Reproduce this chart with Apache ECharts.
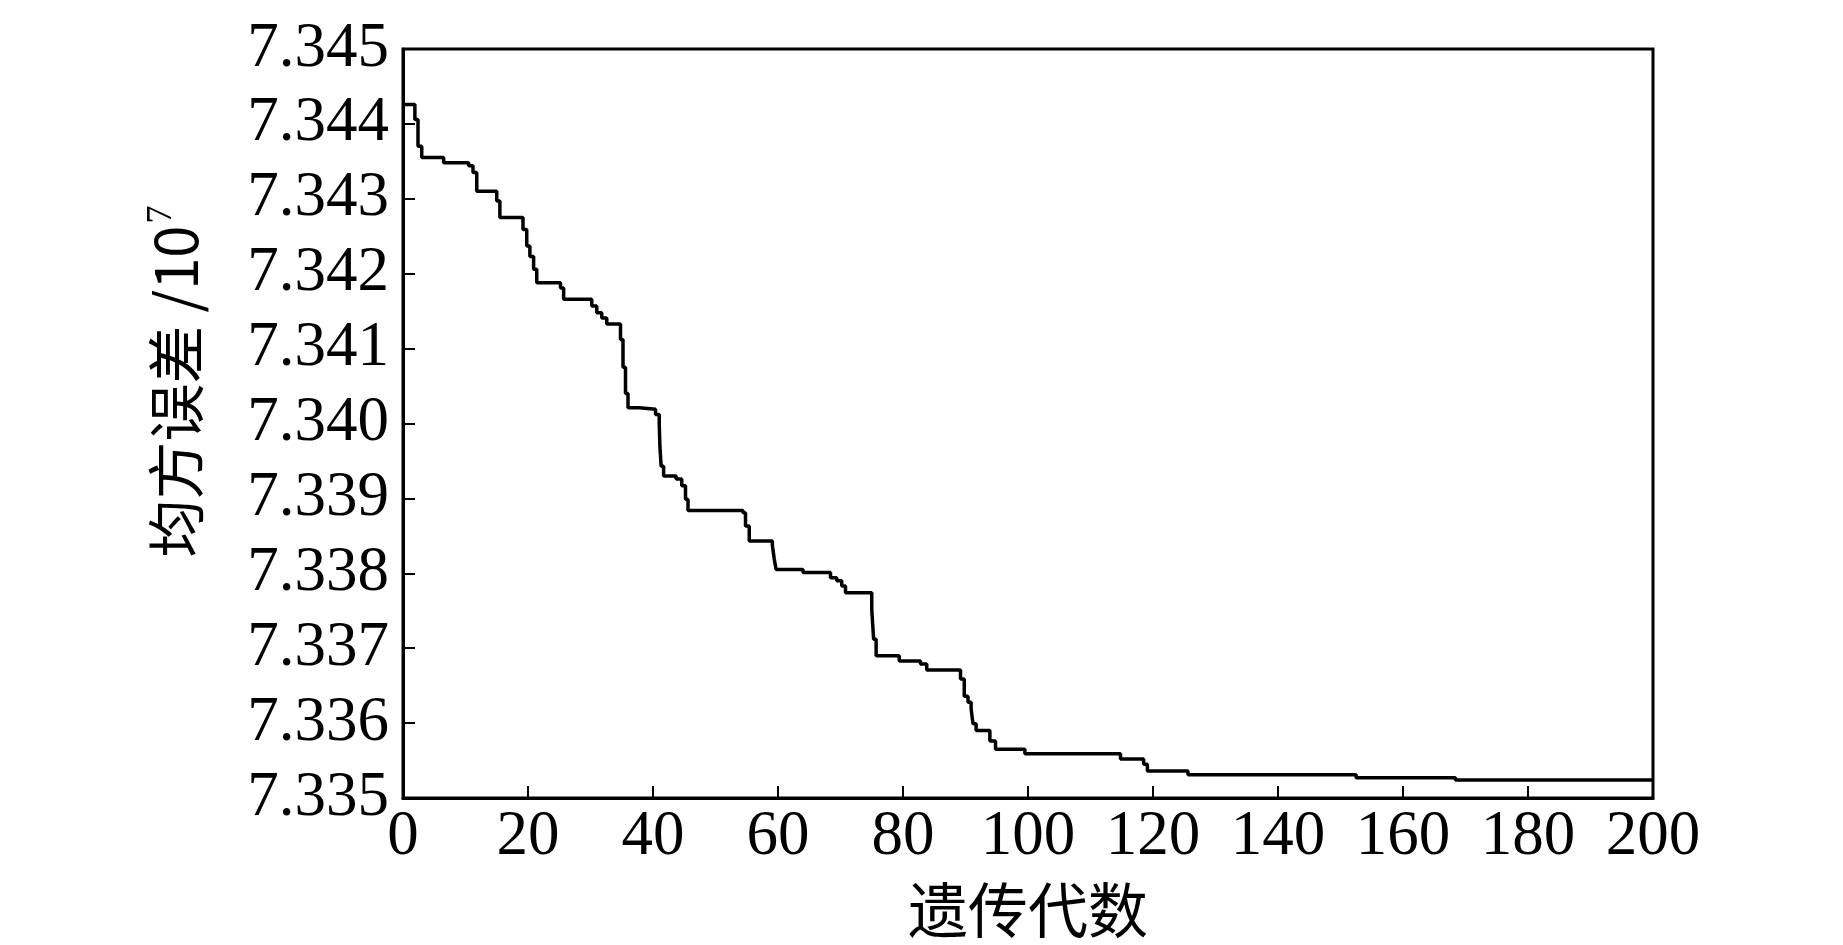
<!DOCTYPE html>
<html>
<head>
<meta charset="utf-8">
<script src="https://cdn.jsdelivr.net/npm/echarts@6/dist/echarts.min.js"></script>
<style>
  html, body { margin: 0; padding: 0; background: #fff; }
  #main { width: 1843px; height: 945px; }
</style>
</head>
<body>
<div id="main"></div>
<script>
// 遗传代数 (每一段台阶开始的代数)
var gens = [0, 1.9, 2.4, 3, 6.5, 10.5, 11.2, 11.8, 15, 15.5, 19.2, 19.8, 20.3, 20.9, 21.4,
	25.2, 25.7, 30.2, 31, 31.8, 32.6, 34.8, 35.2, 35.6, 36, 37.8, 40.4, 41, 41.1, 41.3, 41.7,
	43.7, 44.6, 45.2, 45.6, 54.4, 54.8, 55.4, 59.1, 59.4, 59.7, 64, 68.4, 69.4, 70.2, 70.8,
	75, 75.3, 75.7, 79.4, 82.8, 83.8, 89.2, 89.8, 90.4, 90.9, 91.2, 91.7, 93.9, 94.8, 99.5,
	114.8, 118.5, 119.1, 125.6, 152.5, 168.4, 200];
// 均方误差 /10^7
var mse = [7.34426, 7.34406, 7.34370, 7.34355, 7.34348, 7.34344, 7.34335, 7.34310, 7.34297, 7.34275,
	7.34259, 7.34237, 7.34223, 7.34206, 7.34188, 7.34181, 7.34166, 7.34157, 7.34148, 7.34141,
	7.34133, 7.34112, 7.34075, 7.34040, 7.34021, 7.34019, 7.34012, 7.33999, 7.33970, 7.33943,
	7.33930, 7.33926, 7.33917, 7.33899, 7.33884, 7.33881, 7.33863, 7.33843, 7.33837, 7.33819,
	7.33805, 7.33801, 7.33794, 7.33790, 7.33783, 7.33774, 7.33752, 7.33712, 7.33690, 7.33683,
	7.33679, 7.33671, 7.33659, 7.33636, 7.33628, 7.33619, 7.33599, 7.33590, 7.33576, 7.33565,
	7.33559, 7.33552, 7.33545, 7.33536, 7.33531, 7.33527, 7.33524, 7.33524];

var xName = '遗传代数';
var yName = '均方误差 /10';

var chart = echarts.init(document.getElementById('main'));
var seriesData = gens.map(function(g, i) { return [g, mse[i]]; });

var option = {
	backgroundColor: '#fff',
	animation: false,
	grid: {
		left: 403,
		right: 190,
		top: 49,
		bottom: 146,
		show: true,
		borderColor: '#000',
		borderWidth: 3
	},
	xAxis: {
		type: 'value',
		min: 0,
		max: 200,
		interval: 20,
		name: xName,
		nameLocation: 'middle',
		nameGap: 82,
		nameTextStyle: {
			fontFamily: 'Noto Sans CJK SC',
			fontSize: 60,
			color: '#000'
		},
		axisLine: { lineStyle: { color: '#000', width: 3 } },
		axisTick: { inside: true, length: 12, lineStyle: { color: '#000', width: 2 } },
		axisLabel: {
			margin: 8,
			fontFamily: 'Liberation Serif',
			fontSize: 63,
			color: '#000'
		},
		splitLine: { show: false }
	},
	yAxis: {
		type: 'value',
		min: 7.335,
		max: 7.345,
		interval: 0.001,
		name: '{a|' + yName + '}{s|7}',
		nameLocation: 'middle',
		nameGap: 195,
		nameTextStyle: {
			padding: [0, 0, 0, 84],
			rich: {
				a: { fontFamily: 'Noto Sans CJK SC', fontSize: 58, color: '#000' },
				s: { fontFamily: 'Liberation Serif', fontSize: 36, color: '#000', verticalAlign: 'top', padding: [0, 0, 28, 2] }
			}
		},
		axisLine: { lineStyle: { color: '#000', width: 3 } },
		axisTick: { inside: true, length: 12, lineStyle: { color: '#000', width: 2 } },
		axisLabel: {
			margin: 14,
			fontFamily: 'Liberation Serif',
			fontSize: 63,
			color: '#000',
			formatter: function(v) { return v.toFixed(3); }
		},
		splitLine: { show: false }
	},
	series: [{
		type: 'line',
		step: 'end',
		symbol: 'none',
		lineStyle: { color: '#000', width: 3.5 },
		data: seriesData
	}]
};
chart.setOption(option);
</script>
</body>
</html>
